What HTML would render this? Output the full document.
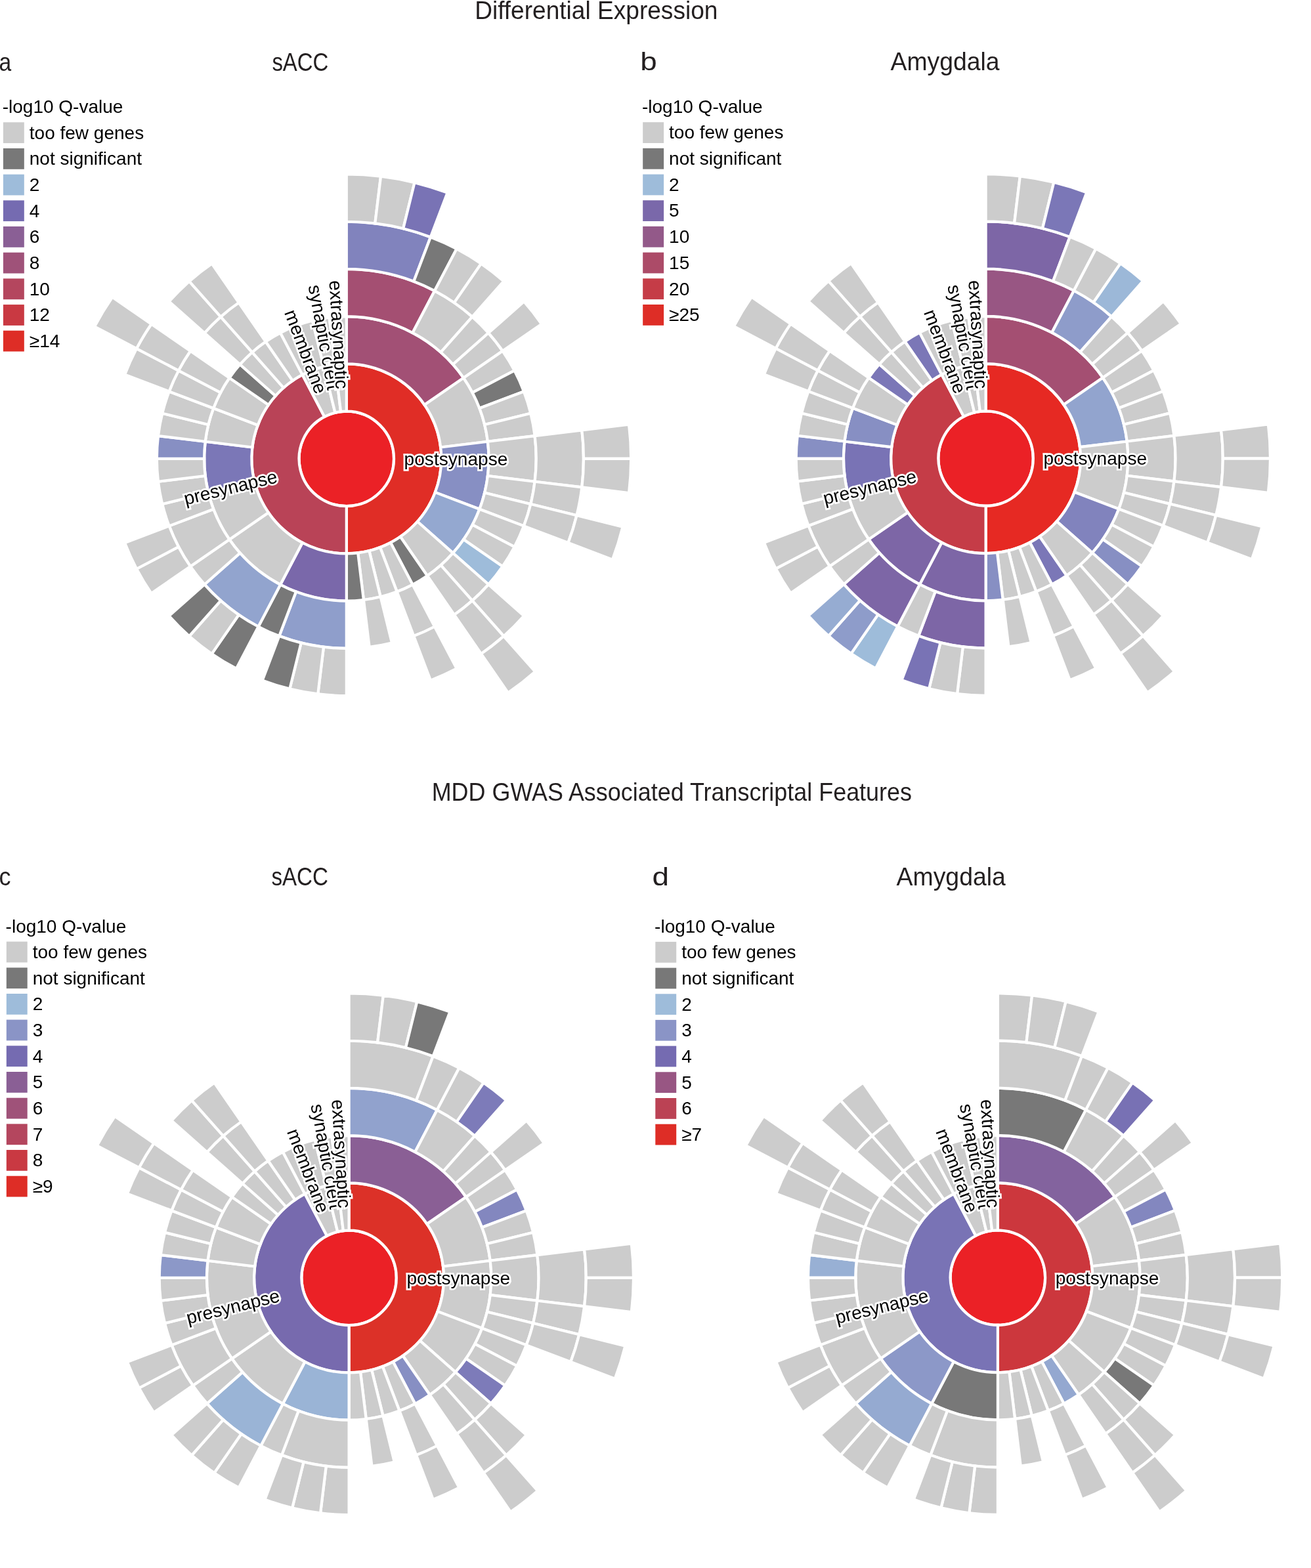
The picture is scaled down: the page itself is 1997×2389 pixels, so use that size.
<!DOCTYPE html><html><head><meta charset="utf-8"><title>SynGO sunburst</title><style>html,body{margin:0;padding:0;background:#fff;}svg{display:block;}</style></head><body><svg width="1997" height="2389" viewBox="0 0 1997 2389"><g font-family="Liberation Sans, Arial, sans-serif" font-size="40" fill="#231f20"><text x="723.20" y="28.50" font-size="38.0" textLength="370.20" lengthAdjust="spacingAndGlyphs">Differential Expression</text><text x="-1.50" y="107.90" font-size="39.0" textLength="18.70" lengthAdjust="spacingAndGlyphs">a</text><text x="414.40" y="107.90" font-size="39.0" textLength="86.00" lengthAdjust="spacingAndGlyphs">sACC</text><text x="975.20" y="107.00" font-size="39.0" textLength="25.50" lengthAdjust="spacingAndGlyphs">b</text><text x="1356.50" y="107.10" font-size="39.0" textLength="166.00" lengthAdjust="spacingAndGlyphs">Amygdala</text><text x="657.70" y="1220.00" font-size="38.5" textLength="731.30" lengthAdjust="spacingAndGlyphs">MDD GWAS Associated Transcriptal Features</text><text x="-1.50" y="1348.60" font-size="39.0" textLength="18.00" lengthAdjust="spacingAndGlyphs">c</text><text x="413.40" y="1348.60" font-size="39.0" textLength="86.50" lengthAdjust="spacingAndGlyphs">sACC</text><text x="993.50" y="1348.90" font-size="39.0" textLength="25.50" lengthAdjust="spacingAndGlyphs">d</text><text x="1365.50" y="1348.90" font-size="39.0" textLength="166.40" lengthAdjust="spacingAndGlyphs">Amygdala</text></g><g font-family="Liberation Sans, Arial, sans-serif" font-size="28.0" fill="#000"><text x="3.7" y="172.2">-log10 Q-value</text><rect x="4.9" y="186.3" width="31.9" height="31.8" fill="#cccccc"/><text x="44.8" y="211.5">too few genes</text><rect x="4.9" y="226.0" width="31.9" height="31.8" fill="#787878"/><text x="44.8" y="251.2">not significant</text><rect x="4.9" y="265.7" width="31.9" height="31.8" fill="#9ebcda"/><text x="44.8" y="290.9">2</text><rect x="4.9" y="305.3" width="31.9" height="31.8" fill="#756bb1"/><text x="44.8" y="330.5">4</text><rect x="4.9" y="345.0" width="31.9" height="31.8" fill="#8a5f95"/><text x="44.8" y="370.2">6</text><rect x="4.9" y="384.7" width="31.9" height="31.8" fill="#9f5279"/><text x="44.8" y="409.9">8</text><rect x="4.9" y="424.4" width="31.9" height="31.8" fill="#b4465e"/><text x="44.8" y="449.6">10</text><rect x="4.9" y="464.1" width="31.9" height="31.8" fill="#c93942"/><text x="44.8" y="489.3">12</text><rect x="4.9" y="503.7" width="31.9" height="31.8" fill="#de2d26"/><text x="44.8" y="528.9">&#8805;14</text></g><g font-family="Liberation Sans, Arial, sans-serif" font-size="28.0" fill="#000"><text x="978.0" y="172.1">-log10 Q-value</text><rect x="979.2" y="186.2" width="31.9" height="31.8" fill="#cccccc"/><text x="1019.1" y="211.4">too few genes</text><rect x="979.2" y="225.9" width="31.9" height="31.8" fill="#787878"/><text x="1019.1" y="251.1">not significant</text><rect x="979.2" y="265.6" width="31.9" height="31.8" fill="#9ebcda"/><text x="1019.1" y="290.8">2</text><rect x="979.2" y="305.2" width="31.9" height="31.8" fill="#7a68aa"/><text x="1019.1" y="330.4">5</text><rect x="979.2" y="344.9" width="31.9" height="31.8" fill="#935989"/><text x="1019.1" y="370.1">10</text><rect x="979.2" y="384.6" width="31.9" height="31.8" fill="#ac4b68"/><text x="1019.1" y="409.8">15</text><rect x="979.2" y="424.3" width="31.9" height="31.8" fill="#c53c47"/><text x="1019.1" y="449.5">20</text><rect x="979.2" y="464.0" width="31.9" height="31.8" fill="#de2d26"/><text x="1019.1" y="489.2">&#8805;25</text></g><g font-family="Liberation Sans, Arial, sans-serif" font-size="28.0" fill="#000"><text x="8.6" y="1420.5">-log10 Q-value</text><rect x="9.8" y="1434.6" width="31.9" height="31.8" fill="#cccccc"/><text x="49.7" y="1459.8">too few genes</text><rect x="9.8" y="1474.3" width="31.9" height="31.8" fill="#787878"/><text x="49.7" y="1499.5">not significant</text><rect x="9.8" y="1514.0" width="31.9" height="31.8" fill="#9ebcda"/><text x="49.7" y="1539.2">2</text><rect x="9.8" y="1553.6" width="31.9" height="31.8" fill="#8a94c6"/><text x="49.7" y="1578.8">3</text><rect x="9.8" y="1593.3" width="31.9" height="31.8" fill="#756bb1"/><text x="49.7" y="1618.5">4</text><rect x="9.8" y="1633.0" width="31.9" height="31.8" fill="#8a5f95"/><text x="49.7" y="1658.2">5</text><rect x="9.8" y="1672.7" width="31.9" height="31.8" fill="#9f5279"/><text x="49.7" y="1697.9">6</text><rect x="9.8" y="1712.4" width="31.9" height="31.8" fill="#b4465e"/><text x="49.7" y="1737.6">7</text><rect x="9.8" y="1752.0" width="31.9" height="31.8" fill="#c93942"/><text x="49.7" y="1777.2">8</text><rect x="9.8" y="1791.7" width="31.9" height="31.8" fill="#de2d26"/><text x="49.7" y="1816.9">&#8805;9</text></g><g font-family="Liberation Sans, Arial, sans-serif" font-size="28.0" fill="#000"><text x="997.1" y="1420.8">-log10 Q-value</text><rect x="998.3" y="1434.9" width="31.9" height="31.8" fill="#cccccc"/><text x="1038.2" y="1460.1">too few genes</text><rect x="998.3" y="1474.6" width="31.9" height="31.8" fill="#787878"/><text x="1038.2" y="1499.8">not significant</text><rect x="998.3" y="1514.3" width="31.9" height="31.8" fill="#9ebcda"/><text x="1038.2" y="1539.5">2</text><rect x="998.3" y="1553.9" width="31.9" height="31.8" fill="#8a94c6"/><text x="1038.2" y="1579.1">3</text><rect x="998.3" y="1593.6" width="31.9" height="31.8" fill="#756bb1"/><text x="1038.2" y="1618.8">4</text><rect x="998.3" y="1633.3" width="31.9" height="31.8" fill="#985683"/><text x="1038.2" y="1658.5">5</text><rect x="998.3" y="1673.0" width="31.9" height="31.8" fill="#bb4254"/><text x="1038.2" y="1698.2">6</text><rect x="998.3" y="1712.7" width="31.9" height="31.8" fill="#de2d26"/><text x="1038.2" y="1737.9">&#8805;7</text></g><g stroke="#fff" stroke-width="4.2"><circle cx="527.80" cy="698.90" r="72.23" fill="#eb2126"/><path d="M527.80 554.43A144.47 144.47 0 0 1 527.80 843.37L527.80 771.13A72.23 72.23 0 0 0 527.80 626.67Z" fill="#e02d26"/><path d="M527.80 843.37A144.47 144.47 0 0 1 460.66 570.98L494.23 634.94A72.23 72.23 0 0 0 527.80 771.13Z" fill="#b94357"/><path d="M460.66 570.98A144.47 144.47 0 0 1 493.23 558.63L510.51 628.77A72.23 72.23 0 0 0 494.23 634.94Z" fill="#cccccc"/><path d="M493.23 558.63A144.47 144.47 0 0 1 510.39 555.49L519.09 627.19A72.23 72.23 0 0 0 510.51 628.77Z" fill="#cccccc"/><path d="M510.39 555.49A144.47 144.47 0 0 1 527.80 554.43L527.80 626.67A72.23 72.23 0 0 0 519.09 627.19Z" fill="#cccccc"/><path d="M527.80 482.20A216.70 216.70 0 0 1 706.14 575.80L646.69 616.83A144.47 144.47 0 0 0 527.80 554.43Z" fill="#a25075"/><path d="M706.14 575.80A216.70 216.70 0 0 1 742.92 672.78L671.21 681.49A144.47 144.47 0 0 0 646.69 616.83Z" fill="#cccccc"/><path d="M742.92 672.78A216.70 216.70 0 0 1 730.42 775.74L662.88 750.13A144.47 144.47 0 0 0 671.21 681.49Z" fill="#878fc3"/><path d="M730.42 775.74A216.70 216.70 0 0 1 690.00 842.60L635.93 794.70A144.47 144.47 0 0 0 662.88 750.13Z" fill="#94a8d0"/><path d="M690.00 842.60A216.70 216.70 0 0 1 650.90 877.24L609.87 817.79A144.47 144.47 0 0 0 635.93 794.70Z" fill="#cccccc"/><path d="M650.90 877.24A216.70 216.70 0 0 1 628.51 890.78L594.94 826.82A144.47 144.47 0 0 0 609.87 817.79Z" fill="#787878"/><path d="M628.51 890.78A216.70 216.70 0 0 1 604.64 901.52L579.03 833.98A144.47 144.47 0 0 0 594.94 826.82Z" fill="#cccccc"/><path d="M604.64 901.52A216.70 216.70 0 0 1 579.66 909.30L562.37 839.17A144.47 144.47 0 0 0 579.03 833.98Z" fill="#cccccc"/><path d="M579.66 909.30A216.70 216.70 0 0 1 553.92 914.02L545.21 842.31A144.47 144.47 0 0 0 562.37 839.17Z" fill="#cccccc"/><path d="M553.92 914.02A216.70 216.70 0 0 1 527.80 915.60L527.80 843.37A144.47 144.47 0 0 0 545.21 842.31Z" fill="#787878"/><path d="M527.80 915.60A216.70 216.70 0 0 1 427.09 890.78L460.66 826.82A144.47 144.47 0 0 0 527.80 843.37Z" fill="#7a68aa"/><path d="M427.09 890.78A216.70 216.70 0 0 1 349.46 822.00L408.91 780.97A144.47 144.47 0 0 0 460.66 826.82Z" fill="#cccccc"/><path d="M349.46 822.00A216.70 216.70 0 0 1 317.40 750.76L387.53 733.47A144.47 144.47 0 0 0 408.91 780.97Z" fill="#cccccc"/><path d="M317.40 750.76A216.70 216.70 0 0 1 312.68 672.78L384.39 681.49A144.47 144.47 0 0 0 387.53 733.47Z" fill="#7b77b7"/><path d="M312.68 672.78A216.70 216.70 0 0 1 325.18 622.06L392.72 647.67A144.47 144.47 0 0 0 384.39 681.49Z" fill="#cccccc"/><path d="M325.18 622.06A216.70 216.70 0 0 1 349.46 575.80L408.91 616.83A144.47 144.47 0 0 0 392.72 647.67Z" fill="#cccccc"/><path d="M349.46 575.80A216.70 216.70 0 0 1 365.60 555.20L419.67 603.10A144.47 144.47 0 0 0 408.91 616.83Z" fill="#787878"/><path d="M365.60 555.20A216.70 216.70 0 0 1 384.10 536.70L432.00 590.77A144.47 144.47 0 0 0 419.67 603.10Z" fill="#cccccc"/><path d="M384.10 536.70A216.70 216.70 0 0 1 404.70 520.56L445.73 580.01A144.47 144.47 0 0 0 432.00 590.77Z" fill="#cccccc"/><path d="M404.70 520.56A216.70 216.70 0 0 1 427.09 507.02L460.66 570.98A144.47 144.47 0 0 0 445.73 580.01Z" fill="#cccccc"/><path d="M427.09 507.02A216.70 216.70 0 0 1 450.96 496.28L476.57 563.82A144.47 144.47 0 0 0 460.66 570.98Z" fill="#cccccc"/><path d="M450.96 496.28A216.70 216.70 0 0 1 475.94 488.50L493.23 558.63A144.47 144.47 0 0 0 476.57 563.82Z" fill="#cccccc"/><path d="M475.94 488.50A216.70 216.70 0 0 1 501.68 483.78L510.39 555.49A144.47 144.47 0 0 0 493.23 558.63Z" fill="#cccccc"/><path d="M501.68 483.78A216.70 216.70 0 0 1 527.80 482.20L527.80 554.43A144.47 144.47 0 0 0 510.39 555.49Z" fill="#cccccc"/><path d="M527.80 409.97A288.93 288.93 0 0 1 662.07 443.06L628.51 507.02A216.70 216.70 0 0 0 527.80 482.20Z" fill="#a44f72"/><path d="M662.07 443.06A288.93 288.93 0 0 1 719.40 482.63L671.50 536.70A216.70 216.70 0 0 0 628.51 507.02Z" fill="#cccccc"/><path d="M719.40 482.63A288.93 288.93 0 0 1 744.07 507.30L690.00 555.20A216.70 216.70 0 0 0 671.50 536.70Z" fill="#cccccc"/><path d="M744.07 507.30A288.93 288.93 0 0 1 765.59 534.77L706.14 575.80A216.70 216.70 0 0 0 690.00 555.20Z" fill="#cccccc"/><path d="M765.59 534.77A288.93 288.93 0 0 1 783.64 564.63L719.68 598.19A216.70 216.70 0 0 0 706.14 575.80Z" fill="#cccccc"/><path d="M783.64 564.63A288.93 288.93 0 0 1 797.96 596.44L730.42 622.06A216.70 216.70 0 0 0 719.68 598.19Z" fill="#787878"/><path d="M797.96 596.44A288.93 288.93 0 0 1 808.34 629.75L738.20 647.04A216.70 216.70 0 0 0 730.42 622.06Z" fill="#cccccc"/><path d="M808.34 629.75A288.93 288.93 0 0 1 814.63 664.07L742.92 672.78A216.70 216.70 0 0 0 738.20 647.04Z" fill="#cccccc"/><path d="M814.63 664.07A288.93 288.93 0 0 1 814.63 733.73L742.92 725.02A216.70 216.70 0 0 0 742.92 672.78Z" fill="#cccccc"/><path d="M814.63 733.73A288.93 288.93 0 0 1 808.34 768.05L738.20 750.76A216.70 216.70 0 0 0 742.92 725.02Z" fill="#cccccc"/><path d="M808.34 768.05A288.93 288.93 0 0 1 797.96 801.36L730.42 775.74A216.70 216.70 0 0 0 738.20 750.76Z" fill="#cccccc"/><path d="M797.96 801.36A288.93 288.93 0 0 1 783.64 833.17L719.68 799.61A216.70 216.70 0 0 0 730.42 775.74Z" fill="#cccccc"/><path d="M783.64 833.17A288.93 288.93 0 0 1 765.59 863.03L706.14 822.00A216.70 216.70 0 0 0 719.68 799.61Z" fill="#cccccc"/><path d="M765.59 863.03A288.93 288.93 0 0 1 744.07 890.50L690.00 842.60A216.70 216.70 0 0 0 706.14 822.00Z" fill="#9ebcda"/><path d="M744.07 890.50A288.93 288.93 0 0 1 719.40 915.17L671.50 861.10A216.70 216.70 0 0 0 690.00 842.60Z" fill="#cccccc"/><path d="M719.40 915.17A288.93 288.93 0 0 1 691.93 936.69L650.90 877.24A216.70 216.70 0 0 0 671.50 861.10Z" fill="#cccccc"/><path d="M662.07 954.74A288.93 288.93 0 0 1 630.26 969.06L604.64 901.52A216.70 216.70 0 0 0 628.51 890.78Z" fill="#cccccc"/><path d="M596.95 979.44A288.93 288.93 0 0 1 562.63 985.73L553.92 914.02A216.70 216.70 0 0 0 579.66 909.30Z" fill="#cccccc"/><path d="M527.80 987.83A288.93 288.93 0 0 1 425.34 969.06L450.96 901.52A216.70 216.70 0 0 0 527.80 915.60Z" fill="#8f9ecb"/><path d="M425.34 969.06A288.93 288.93 0 0 1 393.53 954.74L427.09 890.78A216.70 216.70 0 0 0 450.96 901.52Z" fill="#787878"/><path d="M393.53 954.74A288.93 288.93 0 0 1 311.53 890.50L365.60 842.60A216.70 216.70 0 0 0 427.09 890.78Z" fill="#92a4ce"/><path d="M311.53 890.50A288.93 288.93 0 0 1 290.01 863.03L349.46 822.00A216.70 216.70 0 0 0 365.60 842.60Z" fill="#cccccc"/><path d="M290.01 863.03A288.93 288.93 0 0 1 257.64 801.36L325.18 775.74A216.70 216.70 0 0 0 349.46 822.00Z" fill="#cccccc"/><path d="M257.64 801.36A288.93 288.93 0 0 1 247.26 768.05L317.40 750.76A216.70 216.70 0 0 0 325.18 775.74Z" fill="#cccccc"/><path d="M247.26 768.05A288.93 288.93 0 0 1 240.97 733.73L312.68 725.02A216.70 216.70 0 0 0 317.40 750.76Z" fill="#cccccc"/><path d="M240.97 733.73A288.93 288.93 0 0 1 238.87 698.90L311.10 698.90A216.70 216.70 0 0 0 312.68 725.02Z" fill="#cccccc"/><path d="M238.87 698.90A288.93 288.93 0 0 1 240.97 664.07L312.68 672.78A216.70 216.70 0 0 0 311.10 698.90Z" fill="#878fc3"/><path d="M240.97 664.07A288.93 288.93 0 0 1 247.26 629.75L317.40 647.04A216.70 216.70 0 0 0 312.68 672.78Z" fill="#cccccc"/><path d="M247.26 629.75A288.93 288.93 0 0 1 257.64 596.44L325.18 622.06A216.70 216.70 0 0 0 317.40 647.04Z" fill="#cccccc"/><path d="M257.64 596.44A288.93 288.93 0 0 1 271.96 564.63L335.92 598.19A216.70 216.70 0 0 0 325.18 622.06Z" fill="#cccccc"/><path d="M271.96 564.63A288.93 288.93 0 0 1 290.01 534.77L349.46 575.80A216.70 216.70 0 0 0 335.92 598.19Z" fill="#cccccc"/><path d="M311.53 507.30A288.93 288.93 0 0 1 336.20 482.63L384.10 536.70A216.70 216.70 0 0 0 365.60 555.20Z" fill="#cccccc"/><path d="M336.20 482.63A288.93 288.93 0 0 1 363.67 461.11L404.70 520.56A216.70 216.70 0 0 0 384.10 536.70Z" fill="#cccccc"/><path d="M527.80 337.73A361.17 361.17 0 0 1 655.87 361.20L630.26 428.74A288.93 288.93 0 0 0 527.80 409.97Z" fill="#8183bd"/><path d="M655.87 361.20A361.17 361.17 0 0 1 695.64 379.10L662.07 443.06A288.93 288.93 0 0 0 630.26 428.74Z" fill="#787878"/><path d="M695.64 379.10A361.17 361.17 0 0 1 732.97 401.67L691.93 461.11A288.93 288.93 0 0 0 662.07 443.06Z" fill="#cccccc"/><path d="M732.97 401.67A361.17 361.17 0 0 1 767.30 428.56L719.40 482.63A288.93 288.93 0 0 0 691.93 461.11Z" fill="#cccccc"/><path d="M798.14 459.40A361.17 361.17 0 0 1 825.03 493.73L765.59 534.77A288.93 288.93 0 0 0 744.07 507.30Z" fill="#cccccc"/><path d="M886.33 655.37A361.17 361.17 0 0 1 886.33 742.43L814.63 733.73A288.93 288.93 0 0 0 814.63 664.07Z" fill="#cccccc"/><path d="M886.33 742.43A361.17 361.17 0 0 1 878.47 785.33L808.34 768.05A288.93 288.93 0 0 0 814.63 733.73Z" fill="#cccccc"/><path d="M878.47 785.33A361.17 361.17 0 0 1 865.50 826.97L797.96 801.36A288.93 288.93 0 0 0 808.34 768.05Z" fill="#cccccc"/><path d="M798.14 938.40A361.17 361.17 0 0 1 767.30 969.24L719.40 915.17A288.93 288.93 0 0 0 744.07 890.50Z" fill="#cccccc"/><path d="M767.30 969.24A361.17 361.17 0 0 1 732.97 996.13L691.93 936.69A288.93 288.93 0 0 0 719.40 915.17Z" fill="#cccccc"/><path d="M695.64 1018.70A361.17 361.17 0 0 1 655.87 1036.60L630.26 969.06A288.93 288.93 0 0 0 662.07 954.74Z" fill="#cccccc"/><path d="M527.80 1060.07A361.17 361.17 0 0 1 484.27 1057.43L492.97 985.73A288.93 288.93 0 0 0 527.80 987.83Z" fill="#cccccc"/><path d="M484.27 1057.43A361.17 361.17 0 0 1 441.37 1049.57L458.65 979.44A288.93 288.93 0 0 0 492.97 985.73Z" fill="#cccccc"/><path d="M441.37 1049.57A361.17 361.17 0 0 1 399.73 1036.60L425.34 969.06A288.93 288.93 0 0 0 458.65 979.44Z" fill="#787878"/><path d="M359.96 1018.70A361.17 361.17 0 0 1 322.63 996.13L363.67 936.69A288.93 288.93 0 0 0 393.53 954.74Z" fill="#787878"/><path d="M322.63 996.13A361.17 361.17 0 0 1 288.30 969.24L336.20 915.17A288.93 288.93 0 0 0 363.67 936.69Z" fill="#cccccc"/><path d="M288.30 969.24A361.17 361.17 0 0 1 257.46 938.40L311.53 890.50A288.93 288.93 0 0 0 336.20 915.17Z" fill="#787878"/><path d="M230.57 904.07A361.17 361.17 0 0 1 208.00 866.74L271.96 833.17A288.93 288.93 0 0 0 290.01 863.03Z" fill="#cccccc"/><path d="M208.00 866.74A361.17 361.17 0 0 1 190.10 826.97L257.64 801.36A288.93 288.93 0 0 0 271.96 833.17Z" fill="#cccccc"/><path d="M190.10 570.83A361.17 361.17 0 0 1 208.00 531.06L271.96 564.63A288.93 288.93 0 0 0 257.64 596.44Z" fill="#cccccc"/><path d="M208.00 531.06A361.17 361.17 0 0 1 230.57 493.73L290.01 534.77A288.93 288.93 0 0 0 271.96 564.63Z" fill="#cccccc"/><path d="M257.46 459.40A361.17 361.17 0 0 1 288.30 428.56L336.20 482.63A288.93 288.93 0 0 0 311.53 507.30Z" fill="#cccccc"/><path d="M288.30 428.56A361.17 361.17 0 0 1 322.63 401.67L363.67 461.11A288.93 288.93 0 0 0 336.20 482.63Z" fill="#cccccc"/><path d="M527.80 265.50A433.40 433.40 0 0 1 580.04 268.66L571.33 340.37A361.17 361.17 0 0 0 527.80 337.73Z" fill="#cccccc"/><path d="M580.04 268.66A433.40 433.40 0 0 1 631.52 278.09L614.23 348.23A361.17 361.17 0 0 0 571.33 340.37Z" fill="#cccccc"/><path d="M631.52 278.09A433.40 433.40 0 0 1 681.49 293.66L655.87 361.20A361.17 361.17 0 0 0 614.23 348.23Z" fill="#7973b5"/><path d="M958.04 646.66A433.40 433.40 0 0 1 961.20 698.90L888.97 698.90A361.17 361.17 0 0 0 886.33 655.37Z" fill="#cccccc"/><path d="M961.20 698.90A433.40 433.40 0 0 1 958.04 751.14L886.33 742.43A361.17 361.17 0 0 0 888.97 698.90Z" fill="#cccccc"/><path d="M948.61 802.62A433.40 433.40 0 0 1 933.04 852.59L865.50 826.97A361.17 361.17 0 0 0 878.47 785.33Z" fill="#cccccc"/><path d="M815.20 1023.30A433.40 433.40 0 0 1 774.00 1055.58L732.97 996.13A361.17 361.17 0 0 0 767.30 969.24Z" fill="#cccccc"/><path d="M144.04 497.49A433.40 433.40 0 0 1 171.12 452.70L230.57 493.73A361.17 361.17 0 0 0 208.00 531.06Z" fill="#cccccc"/></g><g font-family="Liberation Sans, Arial, sans-serif" font-size="28.1" fill="#000" stroke="#fff" stroke-width="5.5" stroke-linejoin="miter" stroke-miterlimit="2" paint-order="stroke"><text transform="translate(527.80 698.90) rotate(0.000)" x="87.80" dy="0.35em">postsynapse</text><text transform="translate(527.80 698.90) rotate(-13.846)" x="-109.50" dy="0.35em" text-anchor="end">presynapse</text><text transform="translate(527.80 698.90) rotate(69.231)" x="-107.50" dy="0.35em" text-anchor="end">membrane</text><text transform="translate(527.80 698.90) rotate(79.615)" x="-107.00" dy="0.35em" text-anchor="end">synaptic cleft</text><text transform="translate(527.80 698.90) rotate(86.538)" x="-106.70" dy="0.35em" text-anchor="end">extrasynaptic</text></g><g stroke="#fff" stroke-width="4.2"><circle cx="1501.60" cy="698.60" r="72.23" fill="#eb2126"/><path d="M1501.60 554.13A144.47 144.47 0 0 1 1501.60 843.07L1501.60 770.83A72.23 72.23 0 0 0 1501.60 626.37Z" fill="#e62923"/><path d="M1501.60 843.07A144.47 144.47 0 0 1 1434.46 570.68L1468.03 634.64A72.23 72.23 0 0 0 1501.60 770.83Z" fill="#c53c47"/><path d="M1434.46 570.68A144.47 144.47 0 0 1 1467.03 558.33L1484.31 628.47A72.23 72.23 0 0 0 1468.03 634.64Z" fill="#cccccc"/><path d="M1467.03 558.33A144.47 144.47 0 0 1 1484.19 555.19L1492.89 626.89A72.23 72.23 0 0 0 1484.31 628.47Z" fill="#cccccc"/><path d="M1484.19 555.19A144.47 144.47 0 0 1 1501.60 554.13L1501.60 626.37A72.23 72.23 0 0 0 1492.89 626.89Z" fill="#cccccc"/><path d="M1501.60 481.90A216.70 216.70 0 0 1 1679.94 575.50L1620.49 616.53A144.47 144.47 0 0 0 1501.60 554.13Z" fill="#a44f72"/><path d="M1679.94 575.50A216.70 216.70 0 0 1 1716.72 672.48L1645.01 681.19A144.47 144.47 0 0 0 1620.49 616.53Z" fill="#92a4ce"/><path d="M1716.72 672.48A216.70 216.70 0 0 1 1704.22 775.44L1636.68 749.83A144.47 144.47 0 0 0 1645.01 681.19Z" fill="#cccccc"/><path d="M1704.22 775.44A216.70 216.70 0 0 1 1663.80 842.30L1609.73 794.40A144.47 144.47 0 0 0 1636.68 749.83Z" fill="#8183bd"/><path d="M1663.80 842.30A216.70 216.70 0 0 1 1624.70 876.94L1583.67 817.49A144.47 144.47 0 0 0 1609.73 794.40Z" fill="#cccccc"/><path d="M1624.70 876.94A216.70 216.70 0 0 1 1602.31 890.48L1568.74 826.52A144.47 144.47 0 0 0 1583.67 817.49Z" fill="#7b77b7"/><path d="M1602.31 890.48A216.70 216.70 0 0 1 1578.44 901.22L1552.83 833.68A144.47 144.47 0 0 0 1568.74 826.52Z" fill="#cccccc"/><path d="M1578.44 901.22A216.70 216.70 0 0 1 1553.46 909.00L1536.17 838.87A144.47 144.47 0 0 0 1552.83 833.68Z" fill="#cccccc"/><path d="M1553.46 909.00A216.70 216.70 0 0 1 1527.72 913.72L1519.01 842.01A144.47 144.47 0 0 0 1536.17 838.87Z" fill="#cccccc"/><path d="M1527.72 913.72A216.70 216.70 0 0 1 1501.60 915.30L1501.60 843.07A144.47 144.47 0 0 0 1519.01 842.01Z" fill="#878fc3"/><path d="M1501.60 915.30A216.70 216.70 0 0 1 1400.89 890.48L1434.46 826.52A144.47 144.47 0 0 0 1501.60 843.07Z" fill="#7d66a6"/><path d="M1400.89 890.48A216.70 216.70 0 0 1 1323.26 821.70L1382.71 780.67A144.47 144.47 0 0 0 1434.46 826.52Z" fill="#7d66a6"/><path d="M1323.26 821.70A216.70 216.70 0 0 1 1291.20 750.46L1361.33 733.17A144.47 144.47 0 0 0 1382.71 780.67Z" fill="#cccccc"/><path d="M1291.20 750.46A216.70 216.70 0 0 1 1286.48 672.48L1358.19 681.19A144.47 144.47 0 0 0 1361.33 733.17Z" fill="#7973b5"/><path d="M1286.48 672.48A216.70 216.70 0 0 1 1298.98 621.76L1366.52 647.37A144.47 144.47 0 0 0 1358.19 681.19Z" fill="#878fc3"/><path d="M1298.98 621.76A216.70 216.70 0 0 1 1323.26 575.50L1382.71 616.53A144.47 144.47 0 0 0 1366.52 647.37Z" fill="#cccccc"/><path d="M1323.26 575.50A216.70 216.70 0 0 1 1339.40 554.90L1393.47 602.80A144.47 144.47 0 0 0 1382.71 616.53Z" fill="#7b77b7"/><path d="M1339.40 554.90A216.70 216.70 0 0 1 1357.90 536.40L1405.80 590.47A144.47 144.47 0 0 0 1393.47 602.80Z" fill="#cccccc"/><path d="M1357.90 536.40A216.70 216.70 0 0 1 1378.50 520.26L1419.53 579.71A144.47 144.47 0 0 0 1405.80 590.47Z" fill="#cccccc"/><path d="M1378.50 520.26A216.70 216.70 0 0 1 1400.89 506.72L1434.46 570.68A144.47 144.47 0 0 0 1419.53 579.71Z" fill="#7b77b7"/><path d="M1400.89 506.72A216.70 216.70 0 0 1 1424.76 495.98L1450.37 563.52A144.47 144.47 0 0 0 1434.46 570.68Z" fill="#cccccc"/><path d="M1424.76 495.98A216.70 216.70 0 0 1 1449.74 488.20L1467.03 558.33A144.47 144.47 0 0 0 1450.37 563.52Z" fill="#cccccc"/><path d="M1449.74 488.20A216.70 216.70 0 0 1 1475.48 483.48L1484.19 555.19A144.47 144.47 0 0 0 1467.03 558.33Z" fill="#cccccc"/><path d="M1475.48 483.48A216.70 216.70 0 0 1 1501.60 481.90L1501.60 554.13A144.47 144.47 0 0 0 1484.19 555.19Z" fill="#cccccc"/><path d="M1501.60 409.67A288.93 288.93 0 0 1 1635.87 442.76L1602.31 506.72A216.70 216.70 0 0 0 1501.60 481.90Z" fill="#985683"/><path d="M1635.87 442.76A288.93 288.93 0 0 1 1693.20 482.33L1645.30 536.40A216.70 216.70 0 0 0 1602.31 506.72Z" fill="#8e9cca"/><path d="M1693.20 482.33A288.93 288.93 0 0 1 1717.87 507.00L1663.80 554.90A216.70 216.70 0 0 0 1645.30 536.40Z" fill="#cccccc"/><path d="M1717.87 507.00A288.93 288.93 0 0 1 1739.39 534.47L1679.94 575.50A216.70 216.70 0 0 0 1663.80 554.90Z" fill="#cccccc"/><path d="M1739.39 534.47A288.93 288.93 0 0 1 1757.44 564.33L1693.48 597.89A216.70 216.70 0 0 0 1679.94 575.50Z" fill="#cccccc"/><path d="M1757.44 564.33A288.93 288.93 0 0 1 1771.76 596.14L1704.22 621.76A216.70 216.70 0 0 0 1693.48 597.89Z" fill="#cccccc"/><path d="M1771.76 596.14A288.93 288.93 0 0 1 1782.14 629.45L1712.00 646.74A216.70 216.70 0 0 0 1704.22 621.76Z" fill="#cccccc"/><path d="M1782.14 629.45A288.93 288.93 0 0 1 1788.43 663.77L1716.72 672.48A216.70 216.70 0 0 0 1712.00 646.74Z" fill="#cccccc"/><path d="M1788.43 663.77A288.93 288.93 0 0 1 1788.43 733.43L1716.72 724.72A216.70 216.70 0 0 0 1716.72 672.48Z" fill="#cccccc"/><path d="M1788.43 733.43A288.93 288.93 0 0 1 1782.14 767.75L1712.00 750.46A216.70 216.70 0 0 0 1716.72 724.72Z" fill="#cccccc"/><path d="M1782.14 767.75A288.93 288.93 0 0 1 1771.76 801.06L1704.22 775.44A216.70 216.70 0 0 0 1712.00 750.46Z" fill="#cccccc"/><path d="M1771.76 801.06A288.93 288.93 0 0 1 1757.44 832.87L1693.48 799.31A216.70 216.70 0 0 0 1704.22 775.44Z" fill="#cccccc"/><path d="M1757.44 832.87A288.93 288.93 0 0 1 1739.39 862.73L1679.94 821.70A216.70 216.70 0 0 0 1693.48 799.31Z" fill="#cccccc"/><path d="M1739.39 862.73A288.93 288.93 0 0 1 1717.87 890.20L1663.80 842.30A216.70 216.70 0 0 0 1679.94 821.70Z" fill="#878fc3"/><path d="M1717.87 890.20A288.93 288.93 0 0 1 1693.20 914.87L1645.30 860.80A216.70 216.70 0 0 0 1663.80 842.30Z" fill="#cccccc"/><path d="M1693.20 914.87A288.93 288.93 0 0 1 1665.73 936.39L1624.70 876.94A216.70 216.70 0 0 0 1645.30 860.80Z" fill="#cccccc"/><path d="M1635.87 954.44A288.93 288.93 0 0 1 1604.06 968.76L1578.44 901.22A216.70 216.70 0 0 0 1602.31 890.48Z" fill="#cccccc"/><path d="M1570.75 979.14A288.93 288.93 0 0 1 1536.43 985.43L1527.72 913.72A216.70 216.70 0 0 0 1553.46 909.00Z" fill="#cccccc"/><path d="M1501.60 987.53A288.93 288.93 0 0 1 1399.14 968.76L1424.76 901.22A216.70 216.70 0 0 0 1501.60 915.30Z" fill="#7d66a6"/><path d="M1399.14 968.76A288.93 288.93 0 0 1 1367.33 954.44L1400.89 890.48A216.70 216.70 0 0 0 1424.76 901.22Z" fill="#cccccc"/><path d="M1367.33 954.44A288.93 288.93 0 0 1 1285.33 890.20L1339.40 842.30A216.70 216.70 0 0 0 1400.89 890.48Z" fill="#7d66a6"/><path d="M1285.33 890.20A288.93 288.93 0 0 1 1263.81 862.73L1323.26 821.70A216.70 216.70 0 0 0 1339.40 842.30Z" fill="#cccccc"/><path d="M1263.81 862.73A288.93 288.93 0 0 1 1231.44 801.06L1298.98 775.44A216.70 216.70 0 0 0 1323.26 821.70Z" fill="#cccccc"/><path d="M1231.44 801.06A288.93 288.93 0 0 1 1221.06 767.75L1291.20 750.46A216.70 216.70 0 0 0 1298.98 775.44Z" fill="#cccccc"/><path d="M1221.06 767.75A288.93 288.93 0 0 1 1214.77 733.43L1286.48 724.72A216.70 216.70 0 0 0 1291.20 750.46Z" fill="#cccccc"/><path d="M1214.77 733.43A288.93 288.93 0 0 1 1212.67 698.60L1284.90 698.60A216.70 216.70 0 0 0 1286.48 724.72Z" fill="#cccccc"/><path d="M1212.67 698.60A288.93 288.93 0 0 1 1214.77 663.77L1286.48 672.48A216.70 216.70 0 0 0 1284.90 698.60Z" fill="#878fc3"/><path d="M1214.77 663.77A288.93 288.93 0 0 1 1221.06 629.45L1291.20 646.74A216.70 216.70 0 0 0 1286.48 672.48Z" fill="#cccccc"/><path d="M1221.06 629.45A288.93 288.93 0 0 1 1231.44 596.14L1298.98 621.76A216.70 216.70 0 0 0 1291.20 646.74Z" fill="#cccccc"/><path d="M1231.44 596.14A288.93 288.93 0 0 1 1245.76 564.33L1309.72 597.89A216.70 216.70 0 0 0 1298.98 621.76Z" fill="#cccccc"/><path d="M1245.76 564.33A288.93 288.93 0 0 1 1263.81 534.47L1323.26 575.50A216.70 216.70 0 0 0 1309.72 597.89Z" fill="#cccccc"/><path d="M1285.33 507.00A288.93 288.93 0 0 1 1310.00 482.33L1357.90 536.40A216.70 216.70 0 0 0 1339.40 554.90Z" fill="#cccccc"/><path d="M1310.00 482.33A288.93 288.93 0 0 1 1337.47 460.81L1378.50 520.26A216.70 216.70 0 0 0 1357.90 536.40Z" fill="#cccccc"/><path d="M1501.60 337.43A361.17 361.17 0 0 1 1629.67 360.90L1604.06 428.44A288.93 288.93 0 0 0 1501.60 409.67Z" fill="#7d66a6"/><path d="M1629.67 360.90A361.17 361.17 0 0 1 1669.44 378.80L1635.87 442.76A288.93 288.93 0 0 0 1604.06 428.44Z" fill="#cccccc"/><path d="M1669.44 378.80A361.17 361.17 0 0 1 1706.77 401.37L1665.73 460.81A288.93 288.93 0 0 0 1635.87 442.76Z" fill="#cccccc"/><path d="M1706.77 401.37A361.17 361.17 0 0 1 1741.10 428.26L1693.20 482.33A288.93 288.93 0 0 0 1665.73 460.81Z" fill="#9cb8d8"/><path d="M1771.94 459.10A361.17 361.17 0 0 1 1798.83 493.43L1739.39 534.47A288.93 288.93 0 0 0 1717.87 507.00Z" fill="#cccccc"/><path d="M1860.13 655.07A361.17 361.17 0 0 1 1860.13 742.13L1788.43 733.43A288.93 288.93 0 0 0 1788.43 663.77Z" fill="#cccccc"/><path d="M1860.13 742.13A361.17 361.17 0 0 1 1852.27 785.03L1782.14 767.75A288.93 288.93 0 0 0 1788.43 733.43Z" fill="#cccccc"/><path d="M1852.27 785.03A361.17 361.17 0 0 1 1839.30 826.67L1771.76 801.06A288.93 288.93 0 0 0 1782.14 767.75Z" fill="#cccccc"/><path d="M1771.94 938.10A361.17 361.17 0 0 1 1741.10 968.94L1693.20 914.87A288.93 288.93 0 0 0 1717.87 890.20Z" fill="#cccccc"/><path d="M1741.10 968.94A361.17 361.17 0 0 1 1706.77 995.83L1665.73 936.39A288.93 288.93 0 0 0 1693.20 914.87Z" fill="#cccccc"/><path d="M1669.44 1018.40A361.17 361.17 0 0 1 1629.67 1036.30L1604.06 968.76A288.93 288.93 0 0 0 1635.87 954.44Z" fill="#cccccc"/><path d="M1501.60 1059.77A361.17 361.17 0 0 1 1458.07 1057.13L1466.77 985.43A288.93 288.93 0 0 0 1501.60 987.53Z" fill="#cccccc"/><path d="M1458.07 1057.13A361.17 361.17 0 0 1 1415.17 1049.27L1432.45 979.14A288.93 288.93 0 0 0 1466.77 985.43Z" fill="#cccccc"/><path d="M1415.17 1049.27A361.17 361.17 0 0 1 1373.53 1036.30L1399.14 968.76A288.93 288.93 0 0 0 1432.45 979.14Z" fill="#7973b5"/><path d="M1333.76 1018.40A361.17 361.17 0 0 1 1296.43 995.83L1337.47 936.39A288.93 288.93 0 0 0 1367.33 954.44Z" fill="#9ebcda"/><path d="M1296.43 995.83A361.17 361.17 0 0 1 1262.10 968.94L1310.00 914.87A288.93 288.93 0 0 0 1337.47 936.39Z" fill="#8e9cca"/><path d="M1262.10 968.94A361.17 361.17 0 0 1 1231.26 938.10L1285.33 890.20A288.93 288.93 0 0 0 1310.00 914.87Z" fill="#96acd2"/><path d="M1204.37 903.77A361.17 361.17 0 0 1 1181.80 866.44L1245.76 832.87A288.93 288.93 0 0 0 1263.81 862.73Z" fill="#cccccc"/><path d="M1181.80 866.44A361.17 361.17 0 0 1 1163.90 826.67L1231.44 801.06A288.93 288.93 0 0 0 1245.76 832.87Z" fill="#cccccc"/><path d="M1163.90 570.53A361.17 361.17 0 0 1 1181.80 530.76L1245.76 564.33A288.93 288.93 0 0 0 1231.44 596.14Z" fill="#cccccc"/><path d="M1181.80 530.76A361.17 361.17 0 0 1 1204.37 493.43L1263.81 534.47A288.93 288.93 0 0 0 1245.76 564.33Z" fill="#cccccc"/><path d="M1231.26 459.10A361.17 361.17 0 0 1 1262.10 428.26L1310.00 482.33A288.93 288.93 0 0 0 1285.33 507.00Z" fill="#cccccc"/><path d="M1262.10 428.26A361.17 361.17 0 0 1 1296.43 401.37L1337.47 460.81A288.93 288.93 0 0 0 1310.00 482.33Z" fill="#cccccc"/><path d="M1501.60 265.20A433.40 433.40 0 0 1 1553.84 268.36L1545.13 340.07A361.17 361.17 0 0 0 1501.60 337.43Z" fill="#cccccc"/><path d="M1553.84 268.36A433.40 433.40 0 0 1 1605.32 277.79L1588.03 347.93A361.17 361.17 0 0 0 1545.13 340.07Z" fill="#cccccc"/><path d="M1605.32 277.79A433.40 433.40 0 0 1 1655.29 293.36L1629.67 360.90A361.17 361.17 0 0 0 1588.03 347.93Z" fill="#7b77b7"/><path d="M1931.84 646.36A433.40 433.40 0 0 1 1935.00 698.60L1862.77 698.60A361.17 361.17 0 0 0 1860.13 655.07Z" fill="#cccccc"/><path d="M1935.00 698.60A433.40 433.40 0 0 1 1931.84 750.84L1860.13 742.13A361.17 361.17 0 0 0 1862.77 698.60Z" fill="#cccccc"/><path d="M1922.41 802.32A433.40 433.40 0 0 1 1906.84 852.29L1839.30 826.67A361.17 361.17 0 0 0 1852.27 785.03Z" fill="#cccccc"/><path d="M1789.00 1023.00A433.40 433.40 0 0 1 1747.80 1055.28L1706.77 995.83A361.17 361.17 0 0 0 1741.10 968.94Z" fill="#cccccc"/><path d="M1117.84 497.19A433.40 433.40 0 0 1 1144.92 452.40L1204.37 493.43A361.17 361.17 0 0 0 1181.80 530.76Z" fill="#cccccc"/></g><g font-family="Liberation Sans, Arial, sans-serif" font-size="28.1" fill="#000" stroke="#fff" stroke-width="5.5" stroke-linejoin="miter" stroke-miterlimit="2" paint-order="stroke"><text transform="translate(1501.60 698.60) rotate(0.000)" x="87.80" dy="0.35em">postsynapse</text><text transform="translate(1501.60 698.60) rotate(-13.846)" x="-109.50" dy="0.35em" text-anchor="end">presynapse</text><text transform="translate(1501.60 698.60) rotate(69.231)" x="-107.50" dy="0.35em" text-anchor="end">membrane</text><text transform="translate(1501.60 698.60) rotate(79.615)" x="-107.00" dy="0.35em" text-anchor="end">synaptic cleft</text><text transform="translate(1501.60 698.60) rotate(86.538)" x="-106.70" dy="0.35em" text-anchor="end">extrasynaptic</text></g><g stroke="#fff" stroke-width="4.2"><circle cx="531.60" cy="1946.90" r="72.23" fill="#eb2126"/><path d="M531.60 1802.43A144.47 144.47 0 0 1 531.60 2091.37L531.60 2019.13A72.23 72.23 0 0 0 531.60 1874.67Z" fill="#dc3128"/><path d="M531.60 2091.37A144.47 144.47 0 0 1 464.46 1818.98L498.03 1882.94A72.23 72.23 0 0 0 531.60 2019.13Z" fill="#776aae"/><path d="M464.46 1818.98A144.47 144.47 0 0 1 497.03 1806.63L514.31 1876.77A72.23 72.23 0 0 0 498.03 1882.94Z" fill="#cccccc"/><path d="M497.03 1806.63A144.47 144.47 0 0 1 514.19 1803.49L522.89 1875.19A72.23 72.23 0 0 0 514.31 1876.77Z" fill="#cccccc"/><path d="M514.19 1803.49A144.47 144.47 0 0 1 531.60 1802.43L531.60 1874.67A72.23 72.23 0 0 0 522.89 1875.19Z" fill="#cccccc"/><path d="M531.60 1730.20A216.70 216.70 0 0 1 709.94 1823.80L650.49 1864.83A144.47 144.47 0 0 0 531.60 1802.43Z" fill="#8a5f95"/><path d="M709.94 1823.80A216.70 216.70 0 0 1 746.72 1920.78L675.01 1929.49A144.47 144.47 0 0 0 650.49 1864.83Z" fill="#cccccc"/><path d="M746.72 1920.78A216.70 216.70 0 0 1 734.22 2023.74L666.68 1998.13A144.47 144.47 0 0 0 675.01 1929.49Z" fill="#cccccc"/><path d="M734.22 2023.74A216.70 216.70 0 0 1 693.80 2090.60L639.73 2042.70A144.47 144.47 0 0 0 666.68 1998.13Z" fill="#cccccc"/><path d="M693.80 2090.60A216.70 216.70 0 0 1 654.70 2125.24L613.67 2065.79A144.47 144.47 0 0 0 639.73 2042.70Z" fill="#cccccc"/><path d="M654.70 2125.24A216.70 216.70 0 0 1 632.31 2138.78L598.74 2074.82A144.47 144.47 0 0 0 613.67 2065.79Z" fill="#878fc3"/><path d="M632.31 2138.78A216.70 216.70 0 0 1 608.44 2149.52L582.83 2081.98A144.47 144.47 0 0 0 598.74 2074.82Z" fill="#cccccc"/><path d="M608.44 2149.52A216.70 216.70 0 0 1 583.46 2157.30L566.17 2087.17A144.47 144.47 0 0 0 582.83 2081.98Z" fill="#cccccc"/><path d="M583.46 2157.30A216.70 216.70 0 0 1 557.72 2162.02L549.01 2090.31A144.47 144.47 0 0 0 566.17 2087.17Z" fill="#cccccc"/><path d="M557.72 2162.02A216.70 216.70 0 0 1 531.60 2163.60L531.60 2091.37A144.47 144.47 0 0 0 549.01 2090.31Z" fill="#cccccc"/><path d="M531.60 2163.60A216.70 216.70 0 0 1 430.89 2138.78L464.46 2074.82A144.47 144.47 0 0 0 531.60 2091.37Z" fill="#9ab4d6"/><path d="M430.89 2138.78A216.70 216.70 0 0 1 353.26 2070.00L412.71 2028.97A144.47 144.47 0 0 0 464.46 2074.82Z" fill="#cccccc"/><path d="M353.26 2070.00A216.70 216.70 0 0 1 321.20 1998.76L391.33 1981.47A144.47 144.47 0 0 0 412.71 2028.97Z" fill="#cccccc"/><path d="M321.20 1998.76A216.70 216.70 0 0 1 316.48 1920.78L388.19 1929.49A144.47 144.47 0 0 0 391.33 1981.47Z" fill="#cccccc"/><path d="M316.48 1920.78A216.70 216.70 0 0 1 328.98 1870.06L396.52 1895.67A144.47 144.47 0 0 0 388.19 1929.49Z" fill="#cccccc"/><path d="M328.98 1870.06A216.70 216.70 0 0 1 353.26 1823.80L412.71 1864.83A144.47 144.47 0 0 0 396.52 1895.67Z" fill="#cccccc"/><path d="M353.26 1823.80A216.70 216.70 0 0 1 369.40 1803.20L423.47 1851.10A144.47 144.47 0 0 0 412.71 1864.83Z" fill="#cccccc"/><path d="M369.40 1803.20A216.70 216.70 0 0 1 387.90 1784.70L435.80 1838.77A144.47 144.47 0 0 0 423.47 1851.10Z" fill="#cccccc"/><path d="M387.90 1784.70A216.70 216.70 0 0 1 408.50 1768.56L449.53 1828.01A144.47 144.47 0 0 0 435.80 1838.77Z" fill="#cccccc"/><path d="M408.50 1768.56A216.70 216.70 0 0 1 430.89 1755.02L464.46 1818.98A144.47 144.47 0 0 0 449.53 1828.01Z" fill="#cccccc"/><path d="M430.89 1755.02A216.70 216.70 0 0 1 454.76 1744.28L480.37 1811.82A144.47 144.47 0 0 0 464.46 1818.98Z" fill="#cccccc"/><path d="M454.76 1744.28A216.70 216.70 0 0 1 479.74 1736.50L497.03 1806.63A144.47 144.47 0 0 0 480.37 1811.82Z" fill="#cccccc"/><path d="M479.74 1736.50A216.70 216.70 0 0 1 505.48 1731.78L514.19 1803.49A144.47 144.47 0 0 0 497.03 1806.63Z" fill="#cccccc"/><path d="M505.48 1731.78A216.70 216.70 0 0 1 531.60 1730.20L531.60 1802.43A144.47 144.47 0 0 0 514.19 1803.49Z" fill="#cccccc"/><path d="M531.60 1657.97A288.93 288.93 0 0 1 665.87 1691.06L632.31 1755.02A216.70 216.70 0 0 0 531.60 1730.20Z" fill="#91a2cd"/><path d="M665.87 1691.06A288.93 288.93 0 0 1 723.20 1730.63L675.30 1784.70A216.70 216.70 0 0 0 632.31 1755.02Z" fill="#cccccc"/><path d="M723.20 1730.63A288.93 288.93 0 0 1 747.87 1755.30L693.80 1803.20A216.70 216.70 0 0 0 675.30 1784.70Z" fill="#cccccc"/><path d="M747.87 1755.30A288.93 288.93 0 0 1 769.39 1782.77L709.94 1823.80A216.70 216.70 0 0 0 693.80 1803.20Z" fill="#cccccc"/><path d="M769.39 1782.77A288.93 288.93 0 0 1 787.44 1812.63L723.48 1846.19A216.70 216.70 0 0 0 709.94 1823.80Z" fill="#cccccc"/><path d="M787.44 1812.63A288.93 288.93 0 0 1 801.76 1844.44L734.22 1870.06A216.70 216.70 0 0 0 723.48 1846.19Z" fill="#8387bf"/><path d="M801.76 1844.44A288.93 288.93 0 0 1 812.14 1877.75L742.00 1895.04A216.70 216.70 0 0 0 734.22 1870.06Z" fill="#cccccc"/><path d="M812.14 1877.75A288.93 288.93 0 0 1 818.43 1912.07L746.72 1920.78A216.70 216.70 0 0 0 742.00 1895.04Z" fill="#cccccc"/><path d="M818.43 1912.07A288.93 288.93 0 0 1 818.43 1981.73L746.72 1973.02A216.70 216.70 0 0 0 746.72 1920.78Z" fill="#cccccc"/><path d="M818.43 1981.73A288.93 288.93 0 0 1 812.14 2016.05L742.00 1998.76A216.70 216.70 0 0 0 746.72 1973.02Z" fill="#cccccc"/><path d="M812.14 2016.05A288.93 288.93 0 0 1 801.76 2049.36L734.22 2023.74A216.70 216.70 0 0 0 742.00 1998.76Z" fill="#cccccc"/><path d="M801.76 2049.36A288.93 288.93 0 0 1 787.44 2081.17L723.48 2047.61A216.70 216.70 0 0 0 734.22 2023.74Z" fill="#cccccc"/><path d="M787.44 2081.17A288.93 288.93 0 0 1 769.39 2111.03L709.94 2070.00A216.70 216.70 0 0 0 723.48 2047.61Z" fill="#cccccc"/><path d="M769.39 2111.03A288.93 288.93 0 0 1 747.87 2138.50L693.80 2090.60A216.70 216.70 0 0 0 709.94 2070.00Z" fill="#7d7bb9"/><path d="M747.87 2138.50A288.93 288.93 0 0 1 723.20 2163.17L675.30 2109.10A216.70 216.70 0 0 0 693.80 2090.60Z" fill="#cccccc"/><path d="M723.20 2163.17A288.93 288.93 0 0 1 695.73 2184.69L654.70 2125.24A216.70 216.70 0 0 0 675.30 2109.10Z" fill="#cccccc"/><path d="M665.87 2202.74A288.93 288.93 0 0 1 634.06 2217.06L608.44 2149.52A216.70 216.70 0 0 0 632.31 2138.78Z" fill="#cccccc"/><path d="M600.75 2227.44A288.93 288.93 0 0 1 566.43 2233.73L557.72 2162.02A216.70 216.70 0 0 0 583.46 2157.30Z" fill="#cccccc"/><path d="M531.60 2235.83A288.93 288.93 0 0 1 429.14 2217.06L454.76 2149.52A216.70 216.70 0 0 0 531.60 2163.60Z" fill="#cccccc"/><path d="M429.14 2217.06A288.93 288.93 0 0 1 397.33 2202.74L430.89 2138.78A216.70 216.70 0 0 0 454.76 2149.52Z" fill="#cccccc"/><path d="M397.33 2202.74A288.93 288.93 0 0 1 315.33 2138.50L369.40 2090.60A216.70 216.70 0 0 0 430.89 2138.78Z" fill="#9ab4d6"/><path d="M315.33 2138.50A288.93 288.93 0 0 1 293.81 2111.03L353.26 2070.00A216.70 216.70 0 0 0 369.40 2090.60Z" fill="#cccccc"/><path d="M293.81 2111.03A288.93 288.93 0 0 1 261.44 2049.36L328.98 2023.74A216.70 216.70 0 0 0 353.26 2070.00Z" fill="#cccccc"/><path d="M261.44 2049.36A288.93 288.93 0 0 1 251.06 2016.05L321.20 1998.76A216.70 216.70 0 0 0 328.98 2023.74Z" fill="#cccccc"/><path d="M251.06 2016.05A288.93 288.93 0 0 1 244.77 1981.73L316.48 1973.02A216.70 216.70 0 0 0 321.20 1998.76Z" fill="#cccccc"/><path d="M244.77 1981.73A288.93 288.93 0 0 1 242.67 1946.90L314.90 1946.90A216.70 216.70 0 0 0 316.48 1973.02Z" fill="#cccccc"/><path d="M242.67 1946.90A288.93 288.93 0 0 1 244.77 1912.07L316.48 1920.78A216.70 216.70 0 0 0 314.90 1946.90Z" fill="#8c98c8"/><path d="M244.77 1912.07A288.93 288.93 0 0 1 251.06 1877.75L321.20 1895.04A216.70 216.70 0 0 0 316.48 1920.78Z" fill="#cccccc"/><path d="M251.06 1877.75A288.93 288.93 0 0 1 261.44 1844.44L328.98 1870.06A216.70 216.70 0 0 0 321.20 1895.04Z" fill="#cccccc"/><path d="M261.44 1844.44A288.93 288.93 0 0 1 275.76 1812.63L339.72 1846.19A216.70 216.70 0 0 0 328.98 1870.06Z" fill="#cccccc"/><path d="M275.76 1812.63A288.93 288.93 0 0 1 293.81 1782.77L353.26 1823.80A216.70 216.70 0 0 0 339.72 1846.19Z" fill="#cccccc"/><path d="M315.33 1755.30A288.93 288.93 0 0 1 340.00 1730.63L387.90 1784.70A216.70 216.70 0 0 0 369.40 1803.20Z" fill="#cccccc"/><path d="M340.00 1730.63A288.93 288.93 0 0 1 367.47 1709.11L408.50 1768.56A216.70 216.70 0 0 0 387.90 1784.70Z" fill="#cccccc"/><path d="M531.60 1585.73A361.17 361.17 0 0 1 659.67 1609.20L634.06 1676.74A288.93 288.93 0 0 0 531.60 1657.97Z" fill="#cccccc"/><path d="M659.67 1609.20A361.17 361.17 0 0 1 699.44 1627.10L665.87 1691.06A288.93 288.93 0 0 0 634.06 1676.74Z" fill="#cccccc"/><path d="M699.44 1627.10A361.17 361.17 0 0 1 736.77 1649.67L695.73 1709.11A288.93 288.93 0 0 0 665.87 1691.06Z" fill="#cccccc"/><path d="M736.77 1649.67A361.17 361.17 0 0 1 771.10 1676.56L723.20 1730.63A288.93 288.93 0 0 0 695.73 1709.11Z" fill="#7d7bb9"/><path d="M801.94 1707.40A361.17 361.17 0 0 1 828.83 1741.73L769.39 1782.77A288.93 288.93 0 0 0 747.87 1755.30Z" fill="#cccccc"/><path d="M890.13 1903.37A361.17 361.17 0 0 1 890.13 1990.43L818.43 1981.73A288.93 288.93 0 0 0 818.43 1912.07Z" fill="#cccccc"/><path d="M890.13 1990.43A361.17 361.17 0 0 1 882.27 2033.33L812.14 2016.05A288.93 288.93 0 0 0 818.43 1981.73Z" fill="#cccccc"/><path d="M882.27 2033.33A361.17 361.17 0 0 1 869.30 2074.97L801.76 2049.36A288.93 288.93 0 0 0 812.14 2016.05Z" fill="#cccccc"/><path d="M801.94 2186.40A361.17 361.17 0 0 1 771.10 2217.24L723.20 2163.17A288.93 288.93 0 0 0 747.87 2138.50Z" fill="#cccccc"/><path d="M771.10 2217.24A361.17 361.17 0 0 1 736.77 2244.13L695.73 2184.69A288.93 288.93 0 0 0 723.20 2163.17Z" fill="#cccccc"/><path d="M699.44 2266.70A361.17 361.17 0 0 1 659.67 2284.60L634.06 2217.06A288.93 288.93 0 0 0 665.87 2202.74Z" fill="#cccccc"/><path d="M531.60 2308.07A361.17 361.17 0 0 1 488.07 2305.43L496.77 2233.73A288.93 288.93 0 0 0 531.60 2235.83Z" fill="#cccccc"/><path d="M488.07 2305.43A361.17 361.17 0 0 1 445.17 2297.57L462.45 2227.44A288.93 288.93 0 0 0 496.77 2233.73Z" fill="#cccccc"/><path d="M445.17 2297.57A361.17 361.17 0 0 1 403.53 2284.60L429.14 2217.06A288.93 288.93 0 0 0 462.45 2227.44Z" fill="#cccccc"/><path d="M363.76 2266.70A361.17 361.17 0 0 1 326.43 2244.13L367.47 2184.69A288.93 288.93 0 0 0 397.33 2202.74Z" fill="#cccccc"/><path d="M326.43 2244.13A361.17 361.17 0 0 1 292.10 2217.24L340.00 2163.17A288.93 288.93 0 0 0 367.47 2184.69Z" fill="#cccccc"/><path d="M292.10 2217.24A361.17 361.17 0 0 1 261.26 2186.40L315.33 2138.50A288.93 288.93 0 0 0 340.00 2163.17Z" fill="#cccccc"/><path d="M234.37 2152.07A361.17 361.17 0 0 1 211.80 2114.74L275.76 2081.17A288.93 288.93 0 0 0 293.81 2111.03Z" fill="#cccccc"/><path d="M211.80 2114.74A361.17 361.17 0 0 1 193.90 2074.97L261.44 2049.36A288.93 288.93 0 0 0 275.76 2081.17Z" fill="#cccccc"/><path d="M193.90 1818.83A361.17 361.17 0 0 1 211.80 1779.06L275.76 1812.63A288.93 288.93 0 0 0 261.44 1844.44Z" fill="#cccccc"/><path d="M211.80 1779.06A361.17 361.17 0 0 1 234.37 1741.73L293.81 1782.77A288.93 288.93 0 0 0 275.76 1812.63Z" fill="#cccccc"/><path d="M261.26 1707.40A361.17 361.17 0 0 1 292.10 1676.56L340.00 1730.63A288.93 288.93 0 0 0 315.33 1755.30Z" fill="#cccccc"/><path d="M292.10 1676.56A361.17 361.17 0 0 1 326.43 1649.67L367.47 1709.11A288.93 288.93 0 0 0 340.00 1730.63Z" fill="#cccccc"/><path d="M531.60 1513.50A433.40 433.40 0 0 1 583.84 1516.66L575.13 1588.37A361.17 361.17 0 0 0 531.60 1585.73Z" fill="#cccccc"/><path d="M583.84 1516.66A433.40 433.40 0 0 1 635.32 1526.09L618.03 1596.23A361.17 361.17 0 0 0 575.13 1588.37Z" fill="#cccccc"/><path d="M635.32 1526.09A433.40 433.40 0 0 1 685.29 1541.66L659.67 1609.20A361.17 361.17 0 0 0 618.03 1596.23Z" fill="#787878"/><path d="M961.84 1894.66A433.40 433.40 0 0 1 965.00 1946.90L892.77 1946.90A361.17 361.17 0 0 0 890.13 1903.37Z" fill="#cccccc"/><path d="M965.00 1946.90A433.40 433.40 0 0 1 961.84 1999.14L890.13 1990.43A361.17 361.17 0 0 0 892.77 1946.90Z" fill="#cccccc"/><path d="M952.41 2050.62A433.40 433.40 0 0 1 936.84 2100.59L869.30 2074.97A361.17 361.17 0 0 0 882.27 2033.33Z" fill="#cccccc"/><path d="M819.00 2271.30A433.40 433.40 0 0 1 777.80 2303.58L736.77 2244.13A361.17 361.17 0 0 0 771.10 2217.24Z" fill="#cccccc"/><path d="M147.84 1745.49A433.40 433.40 0 0 1 174.92 1700.70L234.37 1741.73A361.17 361.17 0 0 0 211.80 1779.06Z" fill="#cccccc"/></g><g font-family="Liberation Sans, Arial, sans-serif" font-size="28.1" fill="#000" stroke="#fff" stroke-width="5.5" stroke-linejoin="miter" stroke-miterlimit="2" paint-order="stroke"><text transform="translate(531.60 1946.90) rotate(0.000)" x="87.80" dy="0.35em">postsynapse</text><text transform="translate(531.60 1946.90) rotate(-13.846)" x="-109.50" dy="0.35em" text-anchor="end">presynapse</text><text transform="translate(531.60 1946.90) rotate(69.231)" x="-107.50" dy="0.35em" text-anchor="end">membrane</text><text transform="translate(531.60 1946.90) rotate(79.615)" x="-107.00" dy="0.35em" text-anchor="end">synaptic cleft</text><text transform="translate(531.60 1946.90) rotate(86.538)" x="-106.70" dy="0.35em" text-anchor="end">extrasynaptic</text></g><g stroke="#fff" stroke-width="4.2"><circle cx="1519.90" cy="1946.70" r="72.23" fill="#eb2126"/><path d="M1519.90 1802.23A144.47 144.47 0 0 1 1519.90 2091.17L1519.90 2018.93A72.23 72.23 0 0 0 1519.90 1874.47Z" fill="#cc373d"/><path d="M1519.90 2091.17A144.47 144.47 0 0 1 1452.76 1818.78L1486.33 1882.74A72.23 72.23 0 0 0 1519.90 2018.93Z" fill="#7973b5"/><path d="M1452.76 1818.78A144.47 144.47 0 0 1 1485.33 1806.43L1502.61 1876.57A72.23 72.23 0 0 0 1486.33 1882.74Z" fill="#cccccc"/><path d="M1485.33 1806.43A144.47 144.47 0 0 1 1502.49 1803.29L1511.19 1874.99A72.23 72.23 0 0 0 1502.61 1876.57Z" fill="#cccccc"/><path d="M1502.49 1803.29A144.47 144.47 0 0 1 1519.90 1802.23L1519.90 1874.47A72.23 72.23 0 0 0 1511.19 1874.99Z" fill="#cccccc"/><path d="M1519.90 1730.00A216.70 216.70 0 0 1 1698.24 1823.60L1638.79 1864.63A144.47 144.47 0 0 0 1519.90 1802.23Z" fill="#83639e"/><path d="M1698.24 1823.60A216.70 216.70 0 0 1 1735.02 1920.58L1663.31 1929.29A144.47 144.47 0 0 0 1638.79 1864.63Z" fill="#cccccc"/><path d="M1735.02 1920.58A216.70 216.70 0 0 1 1722.52 2023.54L1654.98 1997.93A144.47 144.47 0 0 0 1663.31 1929.29Z" fill="#cccccc"/><path d="M1722.52 2023.54A216.70 216.70 0 0 1 1682.10 2090.40L1628.03 2042.50A144.47 144.47 0 0 0 1654.98 1997.93Z" fill="#cccccc"/><path d="M1682.10 2090.40A216.70 216.70 0 0 1 1643.00 2125.04L1601.97 2065.59A144.47 144.47 0 0 0 1628.03 2042.50Z" fill="#cccccc"/><path d="M1643.00 2125.04A216.70 216.70 0 0 1 1620.61 2138.58L1587.04 2074.62A144.47 144.47 0 0 0 1601.97 2065.59Z" fill="#94a8d0"/><path d="M1620.61 2138.58A216.70 216.70 0 0 1 1596.74 2149.32L1571.13 2081.78A144.47 144.47 0 0 0 1587.04 2074.62Z" fill="#cccccc"/><path d="M1596.74 2149.32A216.70 216.70 0 0 1 1571.76 2157.10L1554.47 2086.97A144.47 144.47 0 0 0 1571.13 2081.78Z" fill="#cccccc"/><path d="M1571.76 2157.10A216.70 216.70 0 0 1 1546.02 2161.82L1537.31 2090.11A144.47 144.47 0 0 0 1554.47 2086.97Z" fill="#cccccc"/><path d="M1546.02 2161.82A216.70 216.70 0 0 1 1519.90 2163.40L1519.90 2091.17A144.47 144.47 0 0 0 1537.31 2090.11Z" fill="#cccccc"/><path d="M1519.90 2163.40A216.70 216.70 0 0 1 1419.19 2138.58L1452.76 2074.62A144.47 144.47 0 0 0 1519.90 2091.17Z" fill="#787878"/><path d="M1419.19 2138.58A216.70 216.70 0 0 1 1341.56 2069.80L1401.01 2028.77A144.47 144.47 0 0 0 1452.76 2074.62Z" fill="#8c98c8"/><path d="M1341.56 2069.80A216.70 216.70 0 0 1 1309.50 1998.56L1379.63 1981.27A144.47 144.47 0 0 0 1401.01 2028.77Z" fill="#cccccc"/><path d="M1309.50 1998.56A216.70 216.70 0 0 1 1304.78 1920.58L1376.49 1929.29A144.47 144.47 0 0 0 1379.63 1981.27Z" fill="#cccccc"/><path d="M1304.78 1920.58A216.70 216.70 0 0 1 1317.28 1869.86L1384.82 1895.47A144.47 144.47 0 0 0 1376.49 1929.29Z" fill="#cccccc"/><path d="M1317.28 1869.86A216.70 216.70 0 0 1 1341.56 1823.60L1401.01 1864.63A144.47 144.47 0 0 0 1384.82 1895.47Z" fill="#cccccc"/><path d="M1341.56 1823.60A216.70 216.70 0 0 1 1357.70 1803.00L1411.77 1850.90A144.47 144.47 0 0 0 1401.01 1864.63Z" fill="#cccccc"/><path d="M1357.70 1803.00A216.70 216.70 0 0 1 1376.20 1784.50L1424.10 1838.57A144.47 144.47 0 0 0 1411.77 1850.90Z" fill="#cccccc"/><path d="M1376.20 1784.50A216.70 216.70 0 0 1 1396.80 1768.36L1437.83 1827.81A144.47 144.47 0 0 0 1424.10 1838.57Z" fill="#cccccc"/><path d="M1396.80 1768.36A216.70 216.70 0 0 1 1419.19 1754.82L1452.76 1818.78A144.47 144.47 0 0 0 1437.83 1827.81Z" fill="#cccccc"/><path d="M1419.19 1754.82A216.70 216.70 0 0 1 1443.06 1744.08L1468.67 1811.62A144.47 144.47 0 0 0 1452.76 1818.78Z" fill="#cccccc"/><path d="M1443.06 1744.08A216.70 216.70 0 0 1 1468.04 1736.30L1485.33 1806.43A144.47 144.47 0 0 0 1468.67 1811.62Z" fill="#cccccc"/><path d="M1468.04 1736.30A216.70 216.70 0 0 1 1493.78 1731.58L1502.49 1803.29A144.47 144.47 0 0 0 1485.33 1806.43Z" fill="#cccccc"/><path d="M1493.78 1731.58A216.70 216.70 0 0 1 1519.90 1730.00L1519.90 1802.23A144.47 144.47 0 0 0 1502.49 1803.29Z" fill="#cccccc"/><path d="M1519.90 1657.77A288.93 288.93 0 0 1 1654.17 1690.86L1620.61 1754.82A216.70 216.70 0 0 0 1519.90 1730.00Z" fill="#787878"/><path d="M1654.17 1690.86A288.93 288.93 0 0 1 1711.50 1730.43L1663.60 1784.50A216.70 216.70 0 0 0 1620.61 1754.82Z" fill="#cccccc"/><path d="M1711.50 1730.43A288.93 288.93 0 0 1 1736.17 1755.10L1682.10 1803.00A216.70 216.70 0 0 0 1663.60 1784.50Z" fill="#cccccc"/><path d="M1736.17 1755.10A288.93 288.93 0 0 1 1757.69 1782.57L1698.24 1823.60A216.70 216.70 0 0 0 1682.10 1803.00Z" fill="#cccccc"/><path d="M1757.69 1782.57A288.93 288.93 0 0 1 1775.74 1812.43L1711.78 1845.99A216.70 216.70 0 0 0 1698.24 1823.60Z" fill="#cccccc"/><path d="M1775.74 1812.43A288.93 288.93 0 0 1 1790.06 1844.24L1722.52 1869.86A216.70 216.70 0 0 0 1711.78 1845.99Z" fill="#8387bf"/><path d="M1790.06 1844.24A288.93 288.93 0 0 1 1800.44 1877.55L1730.30 1894.84A216.70 216.70 0 0 0 1722.52 1869.86Z" fill="#cccccc"/><path d="M1800.44 1877.55A288.93 288.93 0 0 1 1806.73 1911.87L1735.02 1920.58A216.70 216.70 0 0 0 1730.30 1894.84Z" fill="#cccccc"/><path d="M1806.73 1911.87A288.93 288.93 0 0 1 1806.73 1981.53L1735.02 1972.82A216.70 216.70 0 0 0 1735.02 1920.58Z" fill="#cccccc"/><path d="M1806.73 1981.53A288.93 288.93 0 0 1 1800.44 2015.85L1730.30 1998.56A216.70 216.70 0 0 0 1735.02 1972.82Z" fill="#cccccc"/><path d="M1800.44 2015.85A288.93 288.93 0 0 1 1790.06 2049.16L1722.52 2023.54A216.70 216.70 0 0 0 1730.30 1998.56Z" fill="#cccccc"/><path d="M1790.06 2049.16A288.93 288.93 0 0 1 1775.74 2080.97L1711.78 2047.41A216.70 216.70 0 0 0 1722.52 2023.54Z" fill="#cccccc"/><path d="M1775.74 2080.97A288.93 288.93 0 0 1 1757.69 2110.83L1698.24 2069.80A216.70 216.70 0 0 0 1711.78 2047.41Z" fill="#cccccc"/><path d="M1757.69 2110.83A288.93 288.93 0 0 1 1736.17 2138.30L1682.10 2090.40A216.70 216.70 0 0 0 1698.24 2069.80Z" fill="#787878"/><path d="M1736.17 2138.30A288.93 288.93 0 0 1 1711.50 2162.97L1663.60 2108.90A216.70 216.70 0 0 0 1682.10 2090.40Z" fill="#cccccc"/><path d="M1711.50 2162.97A288.93 288.93 0 0 1 1684.03 2184.49L1643.00 2125.04A216.70 216.70 0 0 0 1663.60 2108.90Z" fill="#cccccc"/><path d="M1654.17 2202.54A288.93 288.93 0 0 1 1622.36 2216.86L1596.74 2149.32A216.70 216.70 0 0 0 1620.61 2138.58Z" fill="#cccccc"/><path d="M1589.05 2227.24A288.93 288.93 0 0 1 1554.73 2233.53L1546.02 2161.82A216.70 216.70 0 0 0 1571.76 2157.10Z" fill="#cccccc"/><path d="M1519.90 2235.63A288.93 288.93 0 0 1 1417.44 2216.86L1443.06 2149.32A216.70 216.70 0 0 0 1519.90 2163.40Z" fill="#cccccc"/><path d="M1417.44 2216.86A288.93 288.93 0 0 1 1385.63 2202.54L1419.19 2138.58A216.70 216.70 0 0 0 1443.06 2149.32Z" fill="#cccccc"/><path d="M1385.63 2202.54A288.93 288.93 0 0 1 1303.63 2138.30L1357.70 2090.40A216.70 216.70 0 0 0 1419.19 2138.58Z" fill="#95aad1"/><path d="M1303.63 2138.30A288.93 288.93 0 0 1 1282.11 2110.83L1341.56 2069.80A216.70 216.70 0 0 0 1357.70 2090.40Z" fill="#cccccc"/><path d="M1282.11 2110.83A288.93 288.93 0 0 1 1249.74 2049.16L1317.28 2023.54A216.70 216.70 0 0 0 1341.56 2069.80Z" fill="#cccccc"/><path d="M1249.74 2049.16A288.93 288.93 0 0 1 1239.36 2015.85L1309.50 1998.56A216.70 216.70 0 0 0 1317.28 2023.54Z" fill="#cccccc"/><path d="M1239.36 2015.85A288.93 288.93 0 0 1 1233.07 1981.53L1304.78 1972.82A216.70 216.70 0 0 0 1309.50 1998.56Z" fill="#cccccc"/><path d="M1233.07 1981.53A288.93 288.93 0 0 1 1230.97 1946.70L1303.20 1946.70A216.70 216.70 0 0 0 1304.78 1972.82Z" fill="#cccccc"/><path d="M1230.97 1946.70A288.93 288.93 0 0 1 1233.07 1911.87L1304.78 1920.58A216.70 216.70 0 0 0 1303.20 1946.70Z" fill="#98b0d4"/><path d="M1233.07 1911.87A288.93 288.93 0 0 1 1239.36 1877.55L1309.50 1894.84A216.70 216.70 0 0 0 1304.78 1920.58Z" fill="#cccccc"/><path d="M1239.36 1877.55A288.93 288.93 0 0 1 1249.74 1844.24L1317.28 1869.86A216.70 216.70 0 0 0 1309.50 1894.84Z" fill="#cccccc"/><path d="M1249.74 1844.24A288.93 288.93 0 0 1 1264.06 1812.43L1328.02 1845.99A216.70 216.70 0 0 0 1317.28 1869.86Z" fill="#cccccc"/><path d="M1264.06 1812.43A288.93 288.93 0 0 1 1282.11 1782.57L1341.56 1823.60A216.70 216.70 0 0 0 1328.02 1845.99Z" fill="#cccccc"/><path d="M1303.63 1755.10A288.93 288.93 0 0 1 1328.30 1730.43L1376.20 1784.50A216.70 216.70 0 0 0 1357.70 1803.00Z" fill="#cccccc"/><path d="M1328.30 1730.43A288.93 288.93 0 0 1 1355.77 1708.91L1396.80 1768.36A216.70 216.70 0 0 0 1376.20 1784.50Z" fill="#cccccc"/><path d="M1519.90 1585.53A361.17 361.17 0 0 1 1647.97 1609.00L1622.36 1676.54A288.93 288.93 0 0 0 1519.90 1657.77Z" fill="#cccccc"/><path d="M1647.97 1609.00A361.17 361.17 0 0 1 1687.74 1626.90L1654.17 1690.86A288.93 288.93 0 0 0 1622.36 1676.54Z" fill="#cccccc"/><path d="M1687.74 1626.90A361.17 361.17 0 0 1 1725.07 1649.47L1684.03 1708.91A288.93 288.93 0 0 0 1654.17 1690.86Z" fill="#cccccc"/><path d="M1725.07 1649.47A361.17 361.17 0 0 1 1759.40 1676.36L1711.50 1730.43A288.93 288.93 0 0 0 1684.03 1708.91Z" fill="#7871b4"/><path d="M1790.24 1707.20A361.17 361.17 0 0 1 1817.13 1741.53L1757.69 1782.57A288.93 288.93 0 0 0 1736.17 1755.10Z" fill="#cccccc"/><path d="M1878.43 1903.17A361.17 361.17 0 0 1 1878.43 1990.23L1806.73 1981.53A288.93 288.93 0 0 0 1806.73 1911.87Z" fill="#cccccc"/><path d="M1878.43 1990.23A361.17 361.17 0 0 1 1870.57 2033.13L1800.44 2015.85A288.93 288.93 0 0 0 1806.73 1981.53Z" fill="#cccccc"/><path d="M1870.57 2033.13A361.17 361.17 0 0 1 1857.60 2074.77L1790.06 2049.16A288.93 288.93 0 0 0 1800.44 2015.85Z" fill="#cccccc"/><path d="M1790.24 2186.20A361.17 361.17 0 0 1 1759.40 2217.04L1711.50 2162.97A288.93 288.93 0 0 0 1736.17 2138.30Z" fill="#cccccc"/><path d="M1759.40 2217.04A361.17 361.17 0 0 1 1725.07 2243.93L1684.03 2184.49A288.93 288.93 0 0 0 1711.50 2162.97Z" fill="#cccccc"/><path d="M1687.74 2266.50A361.17 361.17 0 0 1 1647.97 2284.40L1622.36 2216.86A288.93 288.93 0 0 0 1654.17 2202.54Z" fill="#cccccc"/><path d="M1519.90 2307.87A361.17 361.17 0 0 1 1476.37 2305.23L1485.07 2233.53A288.93 288.93 0 0 0 1519.90 2235.63Z" fill="#cccccc"/><path d="M1476.37 2305.23A361.17 361.17 0 0 1 1433.47 2297.37L1450.75 2227.24A288.93 288.93 0 0 0 1485.07 2233.53Z" fill="#cccccc"/><path d="M1433.47 2297.37A361.17 361.17 0 0 1 1391.83 2284.40L1417.44 2216.86A288.93 288.93 0 0 0 1450.75 2227.24Z" fill="#cccccc"/><path d="M1352.06 2266.50A361.17 361.17 0 0 1 1314.73 2243.93L1355.77 2184.49A288.93 288.93 0 0 0 1385.63 2202.54Z" fill="#cccccc"/><path d="M1314.73 2243.93A361.17 361.17 0 0 1 1280.40 2217.04L1328.30 2162.97A288.93 288.93 0 0 0 1355.77 2184.49Z" fill="#cccccc"/><path d="M1280.40 2217.04A361.17 361.17 0 0 1 1249.56 2186.20L1303.63 2138.30A288.93 288.93 0 0 0 1328.30 2162.97Z" fill="#cccccc"/><path d="M1222.67 2151.87A361.17 361.17 0 0 1 1200.10 2114.54L1264.06 2080.97A288.93 288.93 0 0 0 1282.11 2110.83Z" fill="#cccccc"/><path d="M1200.10 2114.54A361.17 361.17 0 0 1 1182.20 2074.77L1249.74 2049.16A288.93 288.93 0 0 0 1264.06 2080.97Z" fill="#cccccc"/><path d="M1182.20 1818.63A361.17 361.17 0 0 1 1200.10 1778.86L1264.06 1812.43A288.93 288.93 0 0 0 1249.74 1844.24Z" fill="#cccccc"/><path d="M1200.10 1778.86A361.17 361.17 0 0 1 1222.67 1741.53L1282.11 1782.57A288.93 288.93 0 0 0 1264.06 1812.43Z" fill="#cccccc"/><path d="M1249.56 1707.20A361.17 361.17 0 0 1 1280.40 1676.36L1328.30 1730.43A288.93 288.93 0 0 0 1303.63 1755.10Z" fill="#cccccc"/><path d="M1280.40 1676.36A361.17 361.17 0 0 1 1314.73 1649.47L1355.77 1708.91A288.93 288.93 0 0 0 1328.30 1730.43Z" fill="#cccccc"/><path d="M1519.90 1513.30A433.40 433.40 0 0 1 1572.14 1516.46L1563.43 1588.17A361.17 361.17 0 0 0 1519.90 1585.53Z" fill="#cccccc"/><path d="M1572.14 1516.46A433.40 433.40 0 0 1 1623.62 1525.89L1606.33 1596.03A361.17 361.17 0 0 0 1563.43 1588.17Z" fill="#cccccc"/><path d="M1623.62 1525.89A433.40 433.40 0 0 1 1673.59 1541.46L1647.97 1609.00A361.17 361.17 0 0 0 1606.33 1596.03Z" fill="#cccccc"/><path d="M1950.14 1894.46A433.40 433.40 0 0 1 1953.30 1946.70L1881.07 1946.70A361.17 361.17 0 0 0 1878.43 1903.17Z" fill="#cccccc"/><path d="M1953.30 1946.70A433.40 433.40 0 0 1 1950.14 1998.94L1878.43 1990.23A361.17 361.17 0 0 0 1881.07 1946.70Z" fill="#cccccc"/><path d="M1940.71 2050.42A433.40 433.40 0 0 1 1925.14 2100.39L1857.60 2074.77A361.17 361.17 0 0 0 1870.57 2033.13Z" fill="#cccccc"/><path d="M1807.30 2271.10A433.40 433.40 0 0 1 1766.10 2303.38L1725.07 2243.93A361.17 361.17 0 0 0 1759.40 2217.04Z" fill="#cccccc"/><path d="M1136.14 1745.29A433.40 433.40 0 0 1 1163.22 1700.50L1222.67 1741.53A361.17 361.17 0 0 0 1200.10 1778.86Z" fill="#cccccc"/></g><g font-family="Liberation Sans, Arial, sans-serif" font-size="28.1" fill="#000" stroke="#fff" stroke-width="5.5" stroke-linejoin="miter" stroke-miterlimit="2" paint-order="stroke"><text transform="translate(1519.90 1946.70) rotate(0.000)" x="87.80" dy="0.35em">postsynapse</text><text transform="translate(1519.90 1946.70) rotate(-13.846)" x="-109.50" dy="0.35em" text-anchor="end">presynapse</text><text transform="translate(1519.90 1946.70) rotate(69.231)" x="-107.50" dy="0.35em" text-anchor="end">membrane</text><text transform="translate(1519.90 1946.70) rotate(79.615)" x="-107.00" dy="0.35em" text-anchor="end">synaptic cleft</text><text transform="translate(1519.90 1946.70) rotate(86.538)" x="-106.70" dy="0.35em" text-anchor="end">extrasynaptic</text></g></svg></body></html>
